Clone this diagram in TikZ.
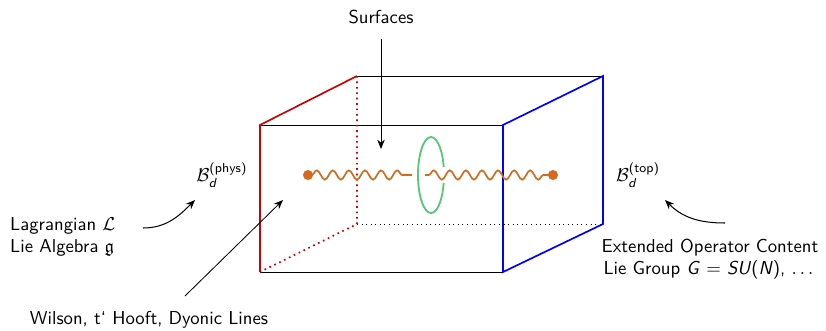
\documentclass[tikz,border=0pt]{standalone}
\usepackage{amsmath}
\usepackage{amssymb}
\usetikzlibrary{positioning, arrows.meta, decorations.pathmorphing}
\definecolor{physred}{RGB}{204,0,0}
\definecolor{topblue}{RGB}{0,0,255}
\definecolor{loopgreen}{RGB}{90,200,120}
\definecolor{lineorange}{RGB}{212,106,32}
\def\wiggleLen{8.6pt}
\def\wiggleAmp{2.5pt}
\def\dotSize{5.4pt}
\newcommand{\sfit}[1]{\textsf{\textit{#1}}}
\newcommand{\SlabStyles}{
  \tikzset{
    frontedge/.style={black, line width=0.45pt},
    hiddenedge/.style={black, line width=0.45pt, dotted},
    physedge/.style={physred, line width=0.9pt},
    topedge/.style={topblue, line width=0.9pt},
    wavy/.style={
      lineorange, line width=0.9pt, decorate,
      decoration={snake, segment length=\wiggleLen, amplitude=\wiggleAmp, pre length=2pt, post length=1pt}
    },
    endpoint/.style={circle, fill=lineorange, inner sep=0pt, minimum size=\dotSize},
    lbl/.style={font=\sffamily, inner sep=1pt},
    pointer/.style={-{Stealth[length=5pt, width=4pt]}, line width=0.45pt},
    bentpointer/.style={pointer, line width=0.55pt}
  }
}

\begin{document}
\begin{tikzpicture}[x=0.0188cm, y=0.0188cm]
  \SlabStyles
  \useasboundingbox (0,0) rectangle (826,330);

  % corners of the slab
  \coordinate (fTL) at (260,205);
  \coordinate (fTR) at (503,205);
  \coordinate (fBL) at (260,58);
  \coordinate (fBR) at (503,58);
  \coordinate (bTL) at (357,254);
  \coordinate (bTR) at (603,254);
  \coordinate (bBL) at (357,106);
  \coordinate (bBR) at (603,106);

  \draw[hiddenedge] (bBL) -- (bBR);
  \draw[frontedge] (fTL) -- (fTR);
  \draw[frontedge] (fBL) -- (fBR);
  \draw[frontedge] (bTL) -- (bTR);

  \draw[physred, line width=0.9pt, dotted] (bTL) -- (bBL) -- (fBL);
  \draw[physedge] (fBL) -- (fTL) -- (bTL);
  \draw[topedge] (fBR) -- (fTR) -- (bTR) -- (bBR) -- cycle;

  % line operator piercing the surface
  \node[endpoint] (qleft) at (308,155) {};
  \node[endpoint] (qright) at (553,155) {};
  \coordinate (wleft) at (412,155);
  \coordinate (wright) at (425,155);
  \draw[wavy] (qleft.center) -- (wleft);
  \draw[wavy] (wright) -- (qright.center);

  \coordinate (loopc) at (431,155);
  \draw[loopgreen, line width=1pt] (loopc) ++(12:13 and 38)
    arc[start angle=12, end angle=348, x radius=13, y radius=38];

  % labels
  \node[lbl] (bphys) at (222,155) {$\mathcal{B}_{\sfit{d}}^{\text{(phys)}}$};
  \node[lbl] (btop) at (638,155) {$\mathcal{B}_{\sfit{d}}^{\text{(top)}}$};
  \node[lbl] (surf) at (381,313) {Surfaces};
  \node[lbl, anchor=west, align=left] (lagr) at (8,93) {Lagrangian $\mathcal{L}$\\ Lie Algebra $\mathfrak{g}$};
  \node[lbl, align=center] (extop) at (710,71) {Extended Operator Content\\ Lie Group \sfit{G} $=$ \sfit{SU}(\sfit{N}), $\dots$};
  \node[lbl] (wilson) at (149,10) {Wilson, t` Hooft, Dyonic Lines};

  \coordinate (surftip) at (381,181);
  \coordinate (lagrout) at (143,102);
  \coordinate (physin) at (195,130);
  \coordinate (extout) at (725,107);
  \coordinate (topin) at (665,130);
  \coordinate (wilsonout) at (185,34);
  \coordinate (facein) at (283,130);

  \draw[pointer, shorten <=7pt] (surf) -- (surftip);
  \draw[bentpointer] (lagrout) to[out=0, in=225] (physin);
  \draw[bentpointer] (extout) to[out=180, in=-45] (topin);
  \draw[pointer] (wilsonout) -- (facein);
\end{tikzpicture}
\end{document}
